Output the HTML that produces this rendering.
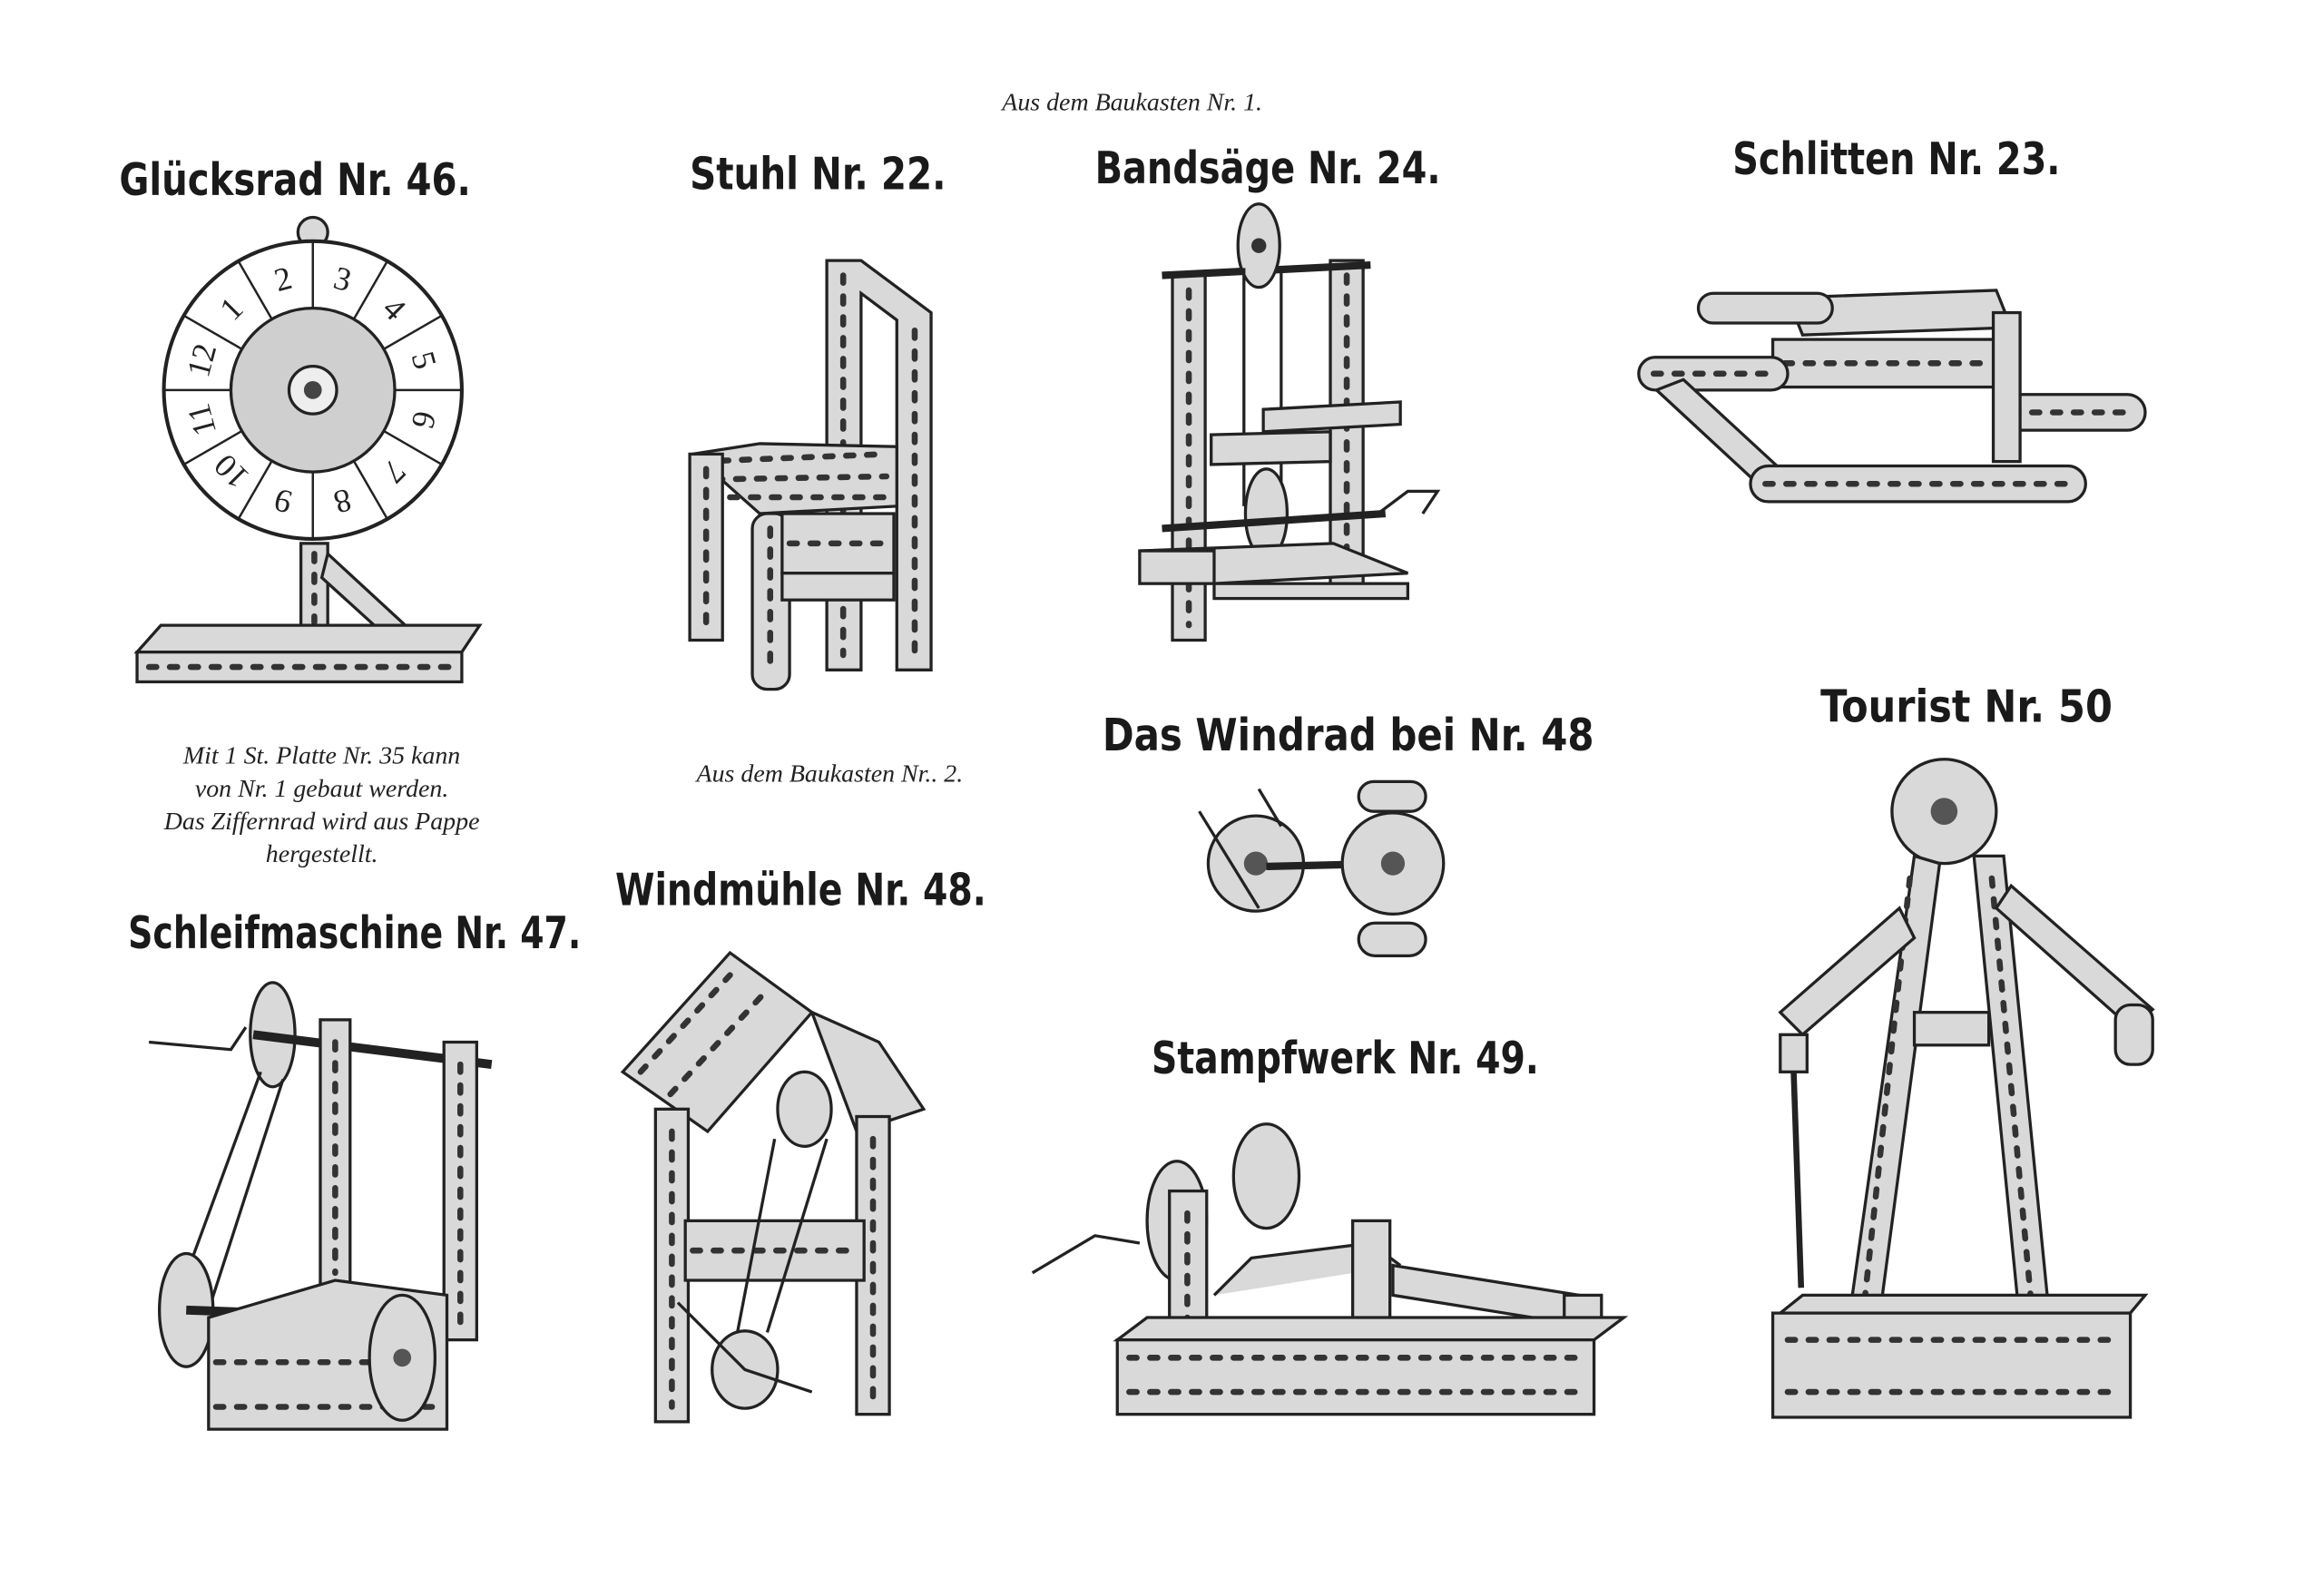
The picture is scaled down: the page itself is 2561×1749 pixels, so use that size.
<!DOCTYPE html>
<html><head><meta charset="utf-8"><style>
html,body{margin:0;padding:0;background:#fff}
svg{display:block}
.t{font-family:"DejaVu Sans Condensed","DejaVu Sans","Liberation Sans",sans-serif;font-weight:bold;font-size:30px;fill:#1a1a1a}
.c{font-family:"Liberation Serif",serif;font-style:italic;font-size:17px;fill:#222}
.s{fill:#d9d9d9;stroke:#222;stroke-width:2}
.h{fill:none;stroke:#333;stroke-width:4;stroke-dasharray:5 9;stroke-linecap:round}
.l{fill:none;stroke:#222;stroke-width:2}
</style></head><body>
<svg width="2561" height="1749" viewBox="0 0 1560 1066" preserveAspectRatio="none" xmlns="http://www.w3.org/2000/svg">
<rect width="1560" height="1066" fill="#fff"/>
<text class="c" x="760" y="74" text-anchor="middle">Aus dem Baukasten Nr. 1.</text>
<text class="t" x="80" y="131" textLength="236" lengthAdjust="spacingAndGlyphs">Glücksrad Nr. 46.</text>
<text class="t" x="463" y="127" textLength="172" lengthAdjust="spacingAndGlyphs">Stuhl Nr. 22.</text>
<text class="t" x="735" y="123" textLength="232" lengthAdjust="spacingAndGlyphs">Bandsäge Nr. 24.</text>
<text class="t" x="1163" y="117" textLength="220" lengthAdjust="spacingAndGlyphs">Schlitten Nr. 23.</text>
<text class="c" x="216" y="513" text-anchor="middle">Mit 1 St. Platte Nr. 35 kann</text>
<text class="c" x="216" y="535" text-anchor="middle">von Nr. 1 gebaut werden.</text>
<text class="c" x="216" y="557" text-anchor="middle">Das Ziffernrad wird aus Pappe</text>
<text class="c" x="216" y="579" text-anchor="middle">hergestellt.</text>
<text class="c" x="557" y="525" text-anchor="middle">Aus dem Baukasten Nr.. 2.</text>
<text class="t" x="740" y="504" textLength="330" lengthAdjust="spacingAndGlyphs">Das Windrad bei Nr. 48</text>
<text class="t" x="1222" y="485" textLength="196" lengthAdjust="spacingAndGlyphs">Tourist Nr. 50</text>
<text class="t" x="86" y="637" textLength="304" lengthAdjust="spacingAndGlyphs">Schleifmaschine Nr. 47.</text>
<text class="t" x="413" y="608" textLength="249" lengthAdjust="spacingAndGlyphs">Windmühle Nr. 48.</text>
<text class="t" x="773" y="721" textLength="260" lengthAdjust="spacingAndGlyphs">Stampfwerk Nr. 49.</text>

<!-- Glücksrad -->
<g>
<circle cx="210" cy="156" r="10" class="s"/>
<circle cx="210" cy="262" r="100" fill="#fff" stroke="#222" stroke-width="2.5"/>
<circle cx="210" cy="262" r="55" fill="#cfcfcf" stroke="#222" stroke-width="2"/>
<circle cx="210" cy="262" r="16" fill="#eee" stroke="#222" stroke-width="2"/>
<circle cx="210" cy="262" r="6" fill="#444"/>
<g stroke="#222" stroke-width="1.5">
<line x1="210" y1="207" x2="210" y2="162"/><line x1="237.5" y1="214.4" x2="260" y2="175.4"/><line x1="257.6" y1="234.5" x2="296.6" y2="212"/><line x1="265" y1="262" x2="310" y2="262"/><line x1="257.6" y1="289.5" x2="296.6" y2="312"/><line x1="237.5" y1="309.6" x2="260" y2="348.6"/><line x1="210" y1="317" x2="210" y2="362"/><line x1="182.5" y1="309.6" x2="160" y2="348.6"/><line x1="162.4" y1="289.5" x2="123.4" y2="312"/><line x1="155" y1="262" x2="110" y2="262"/><line x1="162.4" y1="234.5" x2="123.4" y2="212"/><line x1="182.5" y1="214.4" x2="160" y2="175.4"/>
</g>
<g font-family="Liberation Serif,serif" font-size="22" fill="#222" text-anchor="middle">
<text transform="translate(189.8,186.7) rotate(-15)" dy="8">2</text>
<text transform="translate(230.2,186.7) rotate(15)" dy="8">3</text>
<text transform="translate(265.2,206.8) rotate(45)" dy="8">4</text>
<text transform="translate(285.3,241.8) rotate(75)" dy="8">5</text>
<text transform="translate(285.3,282.2) rotate(105)" dy="8">6</text>
<text transform="translate(265.2,317.2) rotate(135)" dy="8">7</text>
<text transform="translate(230.2,337.3) rotate(165)" dy="8">8</text>
<text transform="translate(189.8,337.3) rotate(195)" dy="8">9</text>
<text transform="translate(154.8,317.2) rotate(225)" dy="8">10</text>
<text transform="translate(134.7,282.2) rotate(255)" dy="8">11</text>
<text transform="translate(134.7,241.8) rotate(285)" dy="8">12</text>
<text transform="translate(154.8,206.8) rotate(315)" dy="8">1</text>
</g>
<rect x="202" y="365" width="18" height="60" class="s"/><line x1="211" y1="372" x2="211" y2="418" class="h"/>
<path d="M220 372 L272 420 L260 428 L216 388Z" class="s"/>
<path d="M92 438 L108 420 L322 420 L310 438Z" class="s"/>
<rect x="92" y="438" width="218" height="20" class="s"/><line x1="100" y1="448" x2="305" y2="448" class="h"/>
</g>

<!-- Stuhl -->
<g>
<path d="M555 175 L578 175 L625 210 L625 450 L602 450 L602 215 L578 197 L578 450 L555 450Z" class="s"/>
<line x1="566" y1="185" x2="566" y2="440" class="h"/><line x1="614" y1="222" x2="614" y2="440" class="h"/>
<path d="M465 305 L510 298 L602 300 L602 340 L510 345Z" class="s"/>
<path d="M470 310 L595 305" class="h"/><path d="M480 322 L595 320" class="h"/><path d="M490 334 L595 334" class="h"/>
<rect x="505" y="345" width="25" height="118" rx="10" class="s"/><line x1="517" y1="355" x2="517" y2="452" class="h"/>
<rect x="463" y="305" width="22" height="125" class="s"/><line x1="474" y1="315" x2="474" y2="420" class="h"/>
<rect x="525" y="345" width="75" height="40" class="s"/><line x1="530" y1="365" x2="595" y2="365" class="h"/>
<rect x="525" y="385" width="75" height="18" class="s"/>
</g>

<!-- Bandsäge -->
<g>
<rect x="787" y="185" width="22" height="245" class="s"/><line x1="798" y1="195" x2="798" y2="420" class="h"/>
<rect x="893" y="175" width="22" height="220" class="s"/><line x1="904" y1="185" x2="904" y2="385" class="h"/>
<line x1="780" y1="185" x2="920" y2="178" stroke="#222" stroke-width="5"/>
<ellipse cx="845" cy="165" rx="14" ry="28" class="s"/><circle cx="845" cy="165" r="5" fill="#333"/>
<line x1="835" y1="180" x2="835" y2="340" class="l"/><line x1="860" y1="180" x2="860" y2="340" class="l"/>
<path d="M813 292 L893 290 L893 310 L813 312Z" class="s"/>
<path d="M848 275 L940 270 L940 285 L848 290Z" class="s"/>
<ellipse cx="850" cy="345" rx="14" ry="30" class="s"/>
<line x1="780" y1="355" x2="930" y2="345" stroke="#222" stroke-width="5"/>
<path d="M925 345 L945 330 L965 330 L955 345" class="l" stroke-width="4"/>
<path d="M765 370 L895 365 L945 385 L815 392Z" class="s"/>
<rect x="765" y="370" width="50" height="22" class="s"/><rect x="815" y="392" width="130" height="10" class="s"/>
</g>

<!-- Schlitten -->
<g>
<path d="M1200 200 L1340 195 L1350 220 L1210 225Z" class="s"/>
<rect x="1190" y="228" width="150" height="32" class="s"/><line x1="1198" y1="244" x2="1332" y2="244" class="h" stroke-dasharray="10 16"/>
<rect x="1140" y="197" width="90" height="20" rx="10" class="s"/>
<rect x="1100" y="240" width="100" height="22" rx="11" class="s"/><line x1="1110" y1="251" x2="1190" y2="251" class="h"/>
<path d="M1112 262 L1180 325 L1195 315 L1130 255Z" class="s"/>
<rect x="1175" y="313" width="225" height="24" rx="12" class="s"/><line x1="1185" y1="325" x2="1390" y2="325" class="h"/>
<rect x="1340" y="265" width="100" height="24" rx="12" class="s"/><line x1="1350" y1="277" x2="1430" y2="277" class="h"/>
<rect x="1338" y="210" width="18" height="100" class="s"/>
</g>

<!-- Windrad -->
<g>
<circle cx="843" cy="580" r="32" class="s"/><circle cx="843" cy="580" r="8" fill="#555"/>
<line x1="805" y1="545" x2="845" y2="610" class="l"/><line x1="845" y1="530" x2="860" y2="555" class="l"/>
<line x1="850" y1="582" x2="935" y2="580" stroke="#222" stroke-width="5"/>
<circle cx="935" cy="580" r="34" class="s"/><circle cx="935" cy="580" r="8" fill="#555"/>
<rect x="912" y="620" width="45" height="22" rx="11" class="s"/><rect x="912" y="525" width="45" height="20" rx="10" class="s"/>
</g>

<!-- Tourist -->
<g>
<circle cx="1305" cy="545" r="35" class="s"/><circle cx="1305" cy="545" r="9" fill="#555"/>
<path d="M1285 575 L1242 880 L1262 882 L1302 580Z" class="s"/><line x1="1282" y1="590" x2="1252" y2="870" class="h"/>
<path d="M1325 575 L1355 880 L1375 878 L1345 575Z" class="s"/><line x1="1337" y1="590" x2="1363" y2="870" class="h"/>
<path d="M1275 610 L1195 680 L1210 695 L1285 630Z" class="s"/>
<path d="M1340 610 L1430 690 L1445 678 L1350 595Z" class="s"/>
<rect x="1420" y="675" width="25" height="40" rx="10" class="s"/>
<rect x="1285" y="680" width="50" height="22" class="s"/>
<rect x="1195" y="695" width="18" height="25" class="s"/><line x1="1204" y1="720" x2="1209" y2="865" stroke="#222" stroke-width="4"/>
<path d="M1195 882 L1210 870 L1440 870 L1430 882Z" class="s"/>
<rect x="1190" y="882" width="240" height="70" class="s"/><line x1="1200" y1="900" x2="1420" y2="900" class="h"/><line x1="1200" y1="935" x2="1420" y2="935" class="h" stroke-dasharray="8 12"/>
</g>

<!-- Schleifmaschine -->
<g>
<path d="M100 700 L155 705 L165 690" class="l" stroke-width="5"/>
<ellipse cx="183" cy="695" rx="15" ry="35" class="s"/>
<line x1="170" y1="695" x2="330" y2="715" stroke="#222" stroke-width="6"/>
<rect x="215" y="685" width="20" height="180" class="s"/><line x1="225" y1="700" x2="225" y2="855" class="h"/>
<rect x="298" y="700" width="22" height="200" class="s"/><line x1="309" y1="715" x2="309" y2="890" class="h"/>
<line x1="175" y1="720" x2="120" y2="870" class="l"/><line x1="190" y1="725" x2="140" y2="880" class="l"/>
<ellipse cx="125" cy="880" rx="18" ry="38" class="s"/>
<line x1="125" y1="880" x2="270" y2="885" stroke="#222" stroke-width="6"/>
<path d="M140 885 L225 860 L300 870 L300 960 L140 960Z" class="s"/>
<line x1="145" y1="915" x2="295" y2="915" class="h" stroke-dasharray="10 14"/><line x1="145" y1="945" x2="295" y2="945" class="h" stroke-dasharray="10 14"/>
<ellipse cx="270" cy="912" rx="22" ry="42" class="s"/><circle cx="270" cy="912" r="6" fill="#555"/>
</g>

<!-- Windmühle -->
<g>
<path d="M418 720 L490 640 L545 680 L475 760Z" class="s"/>
<path d="M545 680 L590 700 L620 745 L575 760Z" class="s"/>
<line x1="430" y1="720" x2="490" y2="655" class="h"/><line x1="450" y1="735" x2="515" y2="665" class="h"/>
<rect x="440" y="745" width="22" height="210" class="s"/><line x1="451" y1="760" x2="451" y2="945" class="h"/>
<rect x="575" y="750" width="22" height="200" class="s"/><line x1="586" y1="765" x2="586" y2="940" class="h"/>
<rect x="460" y="820" width="120" height="40" class="s"/><line x1="465" y1="840" x2="575" y2="840" class="h" stroke-dasharray="8 14"/>
<ellipse cx="540" cy="745" rx="18" ry="25" class="s"/>
<ellipse cx="500" cy="920" rx="22" ry="26" class="s"/>
<line x1="520" y1="765" x2="495" y2="895" class="l"/><line x1="555" y1="765" x2="515" y2="895" class="l"/>
<path d="M455 875 L500 920 L545 935" class="l" stroke-width="4"/>
</g>

<!-- Stampfwerk -->
<g>
<path d="M693 855 L735 830 L765 835" class="l" stroke-width="5"/>
<ellipse cx="790" cy="820" rx="20" ry="40" class="s"/>
<ellipse cx="850" cy="790" rx="22" ry="35" class="s"/>
<rect x="785" y="800" width="25" height="100" class="s"/><line x1="797" y1="815" x2="797" y2="890" class="h"/>
<path d="M815 870 L840 845 L920 835 L940 850" class="s"/>
<rect x="908" y="820" width="25" height="80" class="s"/>
<path d="M935 850 L1060 870 L1060 890 L935 870Z" class="s"/>
<rect x="1050" y="870" width="25" height="25" class="s"/>
<path d="M750 900 L770 885 L1090 885 L1070 900Z" class="s"/>
<rect x="750" y="900" width="320" height="50" class="s"/>
<line x1="758" y1="912" x2="1062" y2="912" class="h" stroke-dasharray="10 14"/><line x1="758" y1="935" x2="1062" y2="935" class="h" stroke-dasharray="10 14"/>
</g>
</svg>
</body></html>
